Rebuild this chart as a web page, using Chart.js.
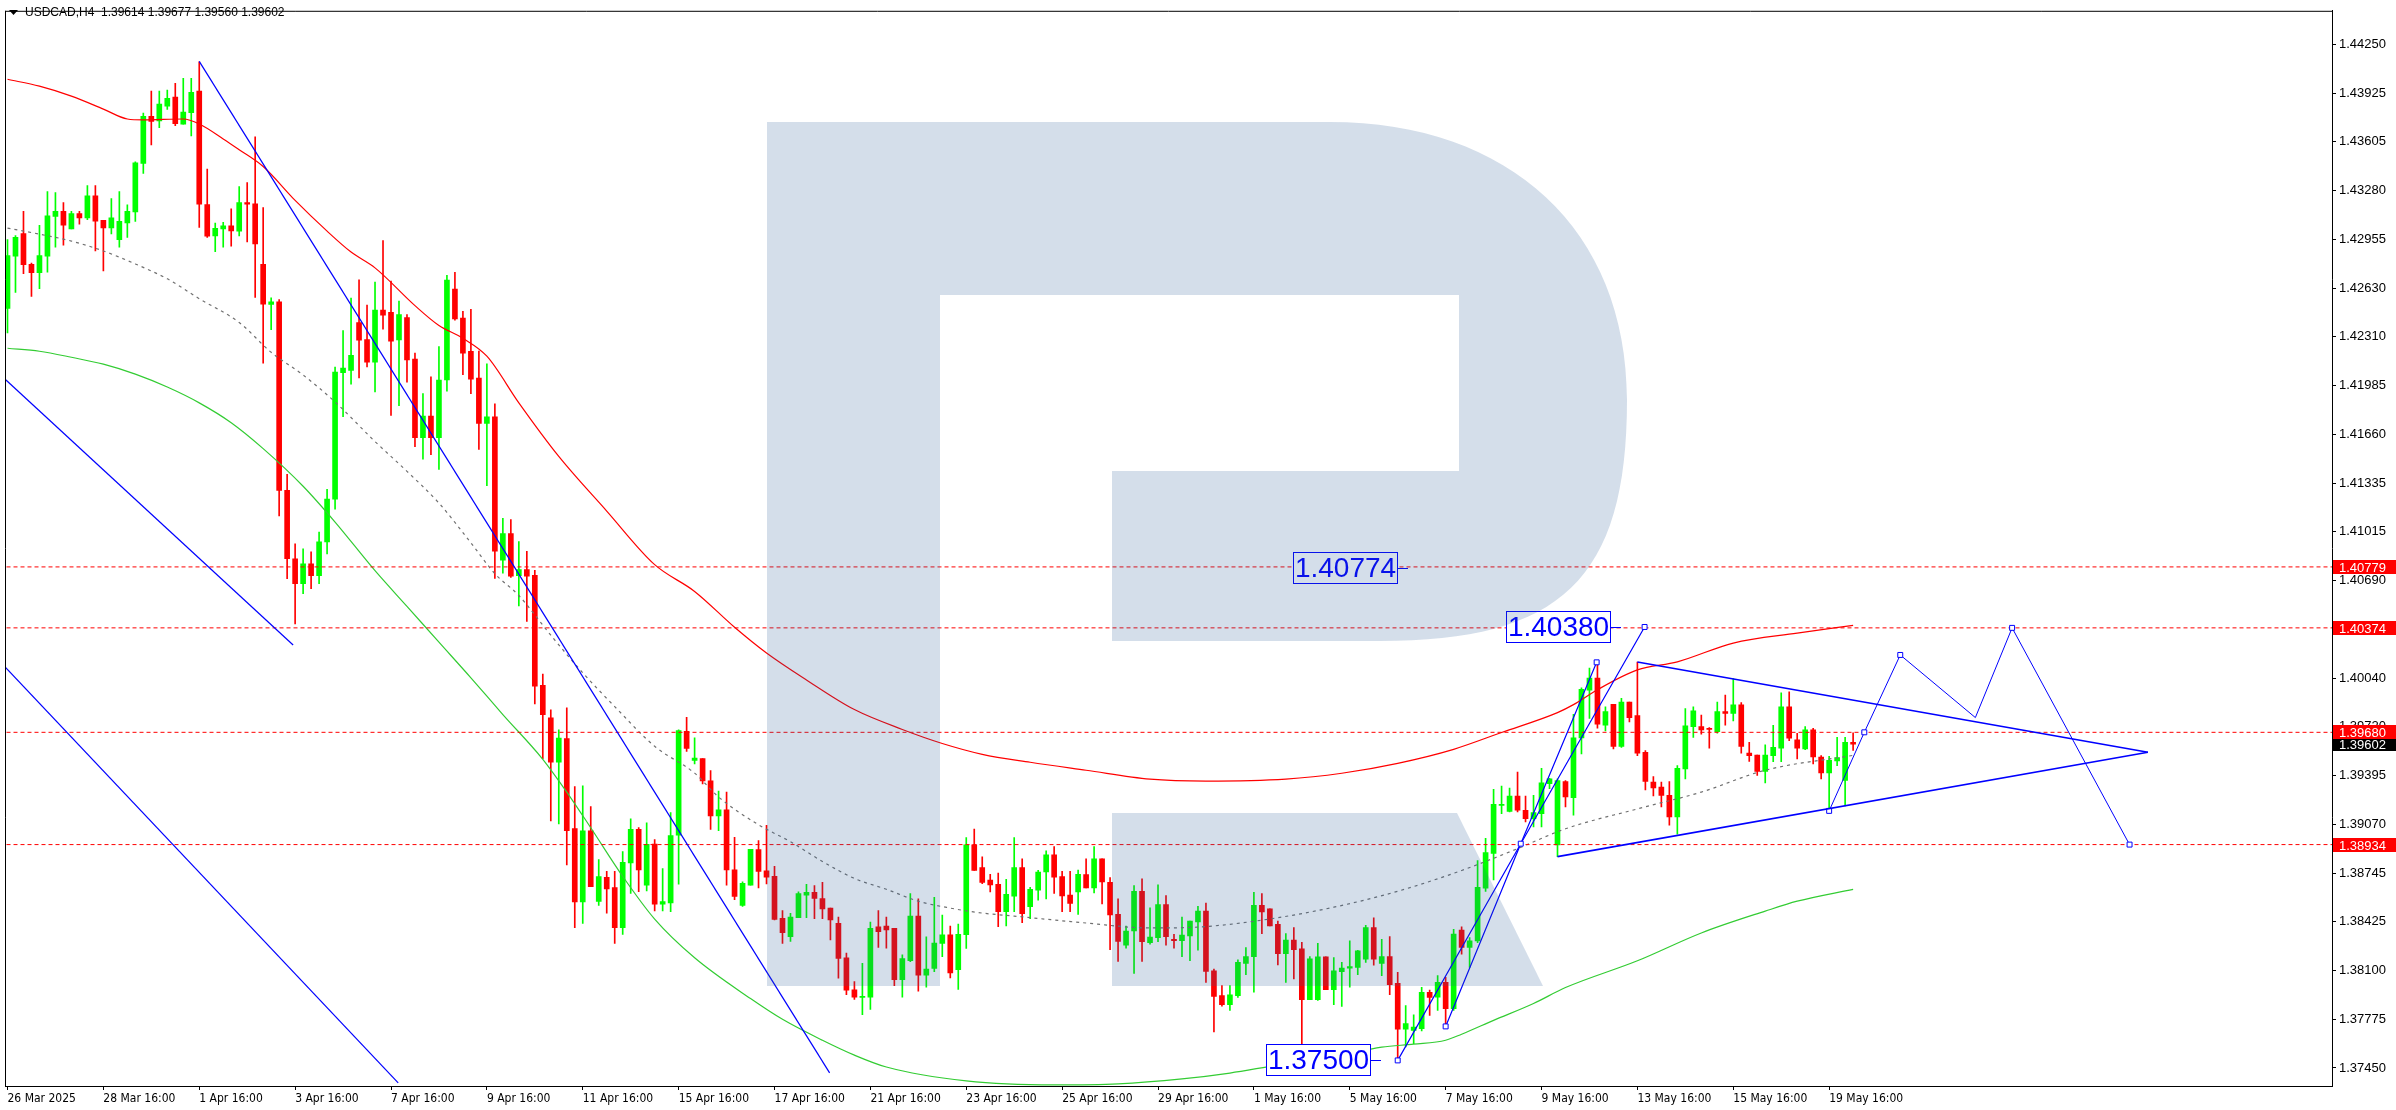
<!DOCTYPE html>
<html>
<head>
<meta charset="utf-8">
<title>USDCAD,H4</title>
<script src="https://cdn.jsdelivr.net/npm/chart.js@4.4.1/dist/chart.umd.min.js"></script>
<style>
  html, body { margin: 0; padding: 0; background: #ffffff; }
  #wrap { position: relative; width: 2396px; height: 1110px; }
</style>
</head>
<body>
<div id="wrap"><canvas id="usdcad"></canvas></div>
<script>
// H4 bars, bar 0 = 26 Mar 2025 16:00, last bar = 20 May 04:00
const barOpen = [
  1.42496,1.42844,1.42994,1.42789,1.42734,1.42844,1.43108,1.43141,1.43024,1.43126,
  1.43097,1.43244,1.43082,1.43031,1.42954,1.43064,1.43137,1.43460,1.43772,1.43742,
  1.43841,1.43900,1.43720,1.43797,1.43940,1.43187,1.42978,1.43024,1.43046,1.43009,
  1.43200,1.43192,1.42789,1.42523,1.42540,1.41288,1.40833,1.40668,1.40800,1.40721,
  1.40945,1.41229,1.42070,1.42085,1.42402,1.42290,1.42140,1.42485,1.42471,1.42287,
  1.42435,1.42160,1.41637,1.41782,1.41637,1.42021,1.42625,1.42432,1.42211,1.42033,
  1.41732,1.41776,1.40824,1.41001,1.40720,1.40762,1.40723,1.39993,1.39777,1.39482,
  1.39638,1.39041,1.38553,1.39026,1.38556,1.38716,1.38648,1.38382,1.38813,1.39035,
  1.38665,1.38938,1.38538,1.38547,1.38997,1.39686,1.39493,1.39505,1.39357,1.39124,
  1.39165,1.38766,1.38530,1.38665,1.38901,1.38760,1.38723,1.38444,1.38323,1.38448,
  1.38598,1.38617,1.38576,1.38512,1.38411,1.38182,1.37969,1.37918,1.37920,1.38387,
  1.38393,1.38378,1.38037,1.38162,1.38459,1.38066,1.38112,1.38277,1.38334,1.38103,
  1.38336,1.38932,1.38782,1.38699,1.38670,1.38488,1.38591,1.38782,1.38521,1.38631,
  1.38752,1.38866,1.38721,1.38598,1.38620,1.38734,1.38646,1.38839,1.38683,1.38470,
  1.38266,1.38360,1.38623,1.38283,1.38316,1.38535,1.38305,1.38296,1.38327,1.38421,
  1.38492,1.38096,1.37931,1.37871,1.37931,1.38144,1.38190,1.38531,1.38507,1.38404,
  1.38210,1.38299,1.38241,1.37904,1.37904,1.38188,1.37970,1.38089,1.38113,1.38118,
  1.38173,1.38382,1.38144,1.38190,1.38012,1.37707,1.37700,1.37711,1.37953,1.37920,
  1.38019,1.37843,1.38366,1.38250,1.38294,1.38645,1.38876,1.39195,1.39155,1.39257,
  1.39162,1.39107,1.39140,1.39338,1.38931,1.39353,1.39246,1.39643,1.39960,1.40041,
  1.39727,1.39866,1.39586,1.39881,1.39791,1.39547,1.39349,1.39316,1.39261,1.39118,
  1.39437,1.39718,1.39718,1.39707,1.39685,1.39817,1.39806,1.39863,1.39542,1.39529,
  1.39421,1.39525,1.39575,1.39850,1.39630,1.39569,1.39696,1.39516,1.39410,1.39490,
  1.39360,1.39614
];
const barHigh = [
  1.42954,1.42980,1.43141,1.42798,1.43049,1.43273,1.43266,1.43200,1.43141,1.43141,
  1.43313,1.43313,1.43082,1.43227,1.43273,1.43185,1.43471,1.43794,1.43940,1.43940,
  1.43948,1.43992,1.44025,1.44025,1.44135,1.43423,1.43064,1.43068,1.43159,1.43306,
  1.43332,1.43636,1.43167,1.42567,1.42555,1.41394,1.40932,1.40899,1.40879,1.41011,
  1.41295,1.42106,1.42349,1.42565,1.42686,1.42518,1.42672,1.42947,1.42678,1.42545,
  1.42456,1.42199,1.41930,1.42042,1.42243,1.42716,1.42737,1.42477,1.42491,1.42213,
  1.42128,1.41862,1.41102,1.41093,1.40948,1.40883,1.40756,1.40067,1.39830,1.39697,
  1.39842,1.39319,1.39325,1.39186,1.38834,1.38757,1.38757,1.38887,1.39106,1.39047,
  1.39079,1.38967,1.38775,1.39147,1.39697,1.39780,1.39644,1.39505,1.39425,1.39289,
  1.39283,1.38982,1.38686,1.38902,1.38960,1.39062,1.38789,1.38496,1.38477,1.38620,
  1.38670,1.38661,1.38683,1.38512,1.38452,1.38213,1.38024,1.38145,1.38419,1.38496,
  1.38452,1.38378,1.38202,1.38609,1.38573,1.38321,1.38584,1.38466,1.38393,1.38406,
  1.38980,1.39037,1.38853,1.38736,1.38745,1.38703,1.38980,1.38839,1.38650,1.38763,
  1.38892,1.38921,1.38756,1.38756,1.38765,1.38839,1.38921,1.38839,1.38714,1.38573,
  1.38393,1.38661,1.38707,1.38513,1.38667,1.38595,1.38338,1.38452,1.38426,1.38524,
  1.38546,1.38107,1.37997,1.37997,1.38168,1.38250,1.38617,1.38608,1.38507,1.38426,
  1.38342,1.38382,1.38285,1.38190,1.38278,1.38188,1.38184,1.38151,1.38294,1.38232,
  1.38397,1.38448,1.38305,1.38322,1.38085,1.37865,1.37803,1.37986,1.37968,1.38063,
  1.38052,1.38371,1.38388,1.38316,1.38828,1.38975,1.39301,1.39322,1.39309,1.39415,
  1.39257,1.39261,1.39441,1.39375,1.39371,1.39360,1.39800,1.39975,1.40107,1.40145,
  1.39850,1.39866,1.39905,1.39881,1.40147,1.39558,1.39386,1.39349,1.39353,1.39459,
  1.39837,1.39850,1.39795,1.39712,1.39881,1.39927,1.40037,1.39877,1.39613,1.39529,
  1.39597,1.39727,1.39943,1.39949,1.39674,1.39718,1.39707,1.39525,1.39520,1.39646,
  1.39646,1.39677
];
const barLow = [
  1.42334,1.42602,1.42727,1.42576,1.42628,1.42738,1.42903,1.42917,1.43024,1.43057,
  1.43086,1.42879,1.42745,1.42991,1.42903,1.42969,1.43075,1.43394,1.43583,1.43698,
  1.43819,1.43711,1.43720,1.43643,1.43035,1.42969,1.42873,1.42903,1.42910,1.42978,
  1.42939,1.42569,1.42133,1.42356,1.41117,1.40701,1.40400,1.40602,1.40635,1.40668,
  1.40866,1.41163,1.41777,1.41993,1.42034,1.42107,1.41942,1.42358,1.41785,1.41850,
  1.42007,1.41578,1.41495,1.41525,1.41427,1.41947,1.42418,1.42057,1.41930,1.41560,
  1.41318,1.40703,1.40738,1.40709,1.40519,1.40416,1.39869,1.39505,1.39091,1.39071,
  1.38799,1.38382,1.38411,1.38654,1.38530,1.38479,1.38278,1.38337,1.38609,1.38621,
  1.38627,1.38494,1.38494,1.38488,1.38671,1.39553,1.39470,1.39337,1.39035,1.39026,
  1.38665,1.38568,1.38524,1.38665,1.38646,1.38672,1.38433,1.38277,1.38290,1.38448,
  1.38448,1.38442,1.38442,1.38301,1.38046,1.37936,1.37905,1.37804,1.37839,1.38250,
  1.38246,1.37997,1.37920,1.38156,1.37960,1.37986,1.38090,1.38189,1.38048,1.37971,
  1.38244,1.38762,1.38675,1.38620,1.38389,1.38393,1.38488,1.38415,1.38442,1.38565,
  1.38573,1.38609,1.38488,1.38488,1.38470,1.38646,1.38613,1.38540,1.38235,1.38158,
  1.38246,1.38078,1.38157,1.38272,1.38289,1.38265,1.38245,1.38190,1.38162,1.38232,
  1.38019,1.37689,1.37860,1.37832,1.37918,1.38069,1.37953,1.38342,1.38393,1.38135,
  1.38019,1.38041,1.37590,1.37904,1.37898,1.37970,1.37871,1.37858,1.37986,1.38069,
  1.38151,1.38133,1.38063,1.37937,1.37500,1.37590,1.37612,1.37696,1.37799,1.37832,
  1.37726,1.37832,1.38206,1.38118,1.38283,1.38623,1.38700,1.39140,1.39151,1.39151,
  1.39085,1.39052,1.39052,1.39305,1.38854,1.39184,1.39129,1.39536,1.39773,1.39707,
  1.39690,1.39569,1.39580,1.39749,1.39525,1.39298,1.39257,1.39184,1.39063,1.39004,
  1.39371,1.39646,1.39668,1.39575,1.39674,1.39727,1.39756,1.39542,1.39487,1.39393,
  1.39344,1.39485,1.39485,1.39624,1.39503,1.39564,1.39470,1.39371,1.39158,1.39459,
  1.39191,1.39560
];
const barClose = [
  1.42848,1.42969,1.42787,1.42734,1.42848,1.43112,1.43141,1.43049,1.43126,1.43097,
  1.43244,1.43077,1.43031,1.43099,1.43075,1.43141,1.43464,1.43772,1.43739,1.43854,
  1.43893,1.43724,1.43801,1.43933,1.43189,1.42976,1.43029,1.43046,1.43011,1.43200,
  1.43189,1.42925,1.42525,1.42540,1.41288,1.40833,1.40668,1.40800,1.40721,1.40945,
  1.41229,1.42073,1.42100,1.42184,1.42285,1.42140,1.42485,1.42452,1.42279,1.42456,
  1.42154,1.41637,1.41782,1.41637,1.42021,1.42684,1.42426,1.42199,1.42027,1.41732,
  1.41776,1.40883,1.41001,1.40717,1.40762,1.40717,1.39987,1.39798,1.39482,1.39641,
  1.39026,1.38553,1.39026,1.38654,1.38722,1.38639,1.38382,1.38816,1.39035,1.38766,
  1.38935,1.38538,1.38556,1.38994,1.39691,1.39573,1.39508,1.39357,1.39124,1.39165,
  1.38766,1.38589,1.38677,1.38902,1.38756,1.38718,1.38437,1.38349,1.38452,1.38609,
  1.38617,1.38577,1.38507,1.38433,1.38178,1.37967,1.37920,1.37925,1.38378,1.38356,
  1.38367,1.38037,1.38176,1.38459,1.38066,1.38107,1.38279,1.38334,1.38081,1.38338,
  1.38932,1.38762,1.38683,1.38666,1.38488,1.38603,1.38782,1.38475,1.38637,1.38752,
  1.38866,1.38718,1.38593,1.38543,1.38736,1.38646,1.38839,1.38686,1.38466,1.38290,
  1.38360,1.38623,1.38289,1.38320,1.38535,1.38322,1.38296,1.38333,1.38426,1.38492,
  1.38091,1.37926,1.37871,1.37935,1.38151,1.38190,1.38531,1.38487,1.38393,1.38210,
  1.38299,1.38236,1.37904,1.38175,1.38188,1.37970,1.38096,1.38113,1.38124,1.38228,
  1.38382,1.38173,1.38190,1.38003,1.37707,1.37744,1.37722,1.37953,1.37918,1.38019,
  1.37843,1.38340,1.38250,1.38294,1.38650,1.38881,1.39202,1.39202,1.39257,1.39162,
  1.39107,1.39147,1.39344,1.39371,1.39360,1.39250,1.39643,1.39965,1.40041,1.39734,
  1.39817,1.39586,1.39881,1.39778,1.39542,1.39353,1.39311,1.39261,1.39118,1.39441,
  1.39723,1.39822,1.39696,1.39700,1.39817,1.39806,1.39863,1.39586,1.39525,1.39421,
  1.39529,1.39580,1.39850,1.39641,1.39575,1.39696,1.39516,1.39410,1.39494,1.39512,
  1.39613,1.39602
];

// moving averages, read at sample bars
const maRedBars = [0,4,8,12,15,17,22,24,27,29,32,36,40,43,46,51,54,57,60,64,69,75,81,86,91,95,100,106,112,117,122,128,135,143,150,160,167,174,181,187,194,196,199,204,209,216,224,231];
const maRedVals = [1.44019,1.43973,1.43907,1.43821,1.43755,1.43749,1.43755,1.43722,1.43623,1.43551,1.43439,1.43214,1.43010,1.42871,1.42766,1.42515,1.42383,1.42298,1.42179,1.41869,1.41513,1.41150,1.40794,1.40616,1.40378,1.40207,1.40028,1.39831,1.39699,1.39606,1.39534,1.39481,1.39428,1.39369,1.39356,1.39369,1.39408,1.39474,1.39567,1.39679,1.39811,1.39864,1.39963,1.40095,1.40148,1.40273,1.40339,1.40391];
const maGrayBars = [0,4,8,12,16,20,24,29,33,37,41,46,50,54,58,61,64,68,72,76,81,86,89,94,98,102,106,110,114,118,122,126,135,143,149,157,166,174,182,189,195,204,212,220,231];
const maGrayVals = [1.43030,1.42990,1.42944,1.42878,1.42792,1.42693,1.42561,1.42403,1.42205,1.42054,1.41875,1.41612,1.41414,1.41203,1.40939,1.40734,1.40589,1.40325,1.40075,1.39851,1.39587,1.39409,1.39250,1.39066,1.38953,1.38822,1.38709,1.38637,1.38558,1.38512,1.38479,1.38459,1.38413,1.38380,1.38386,1.38432,1.38518,1.38624,1.38762,1.38907,1.39039,1.39171,1.39283,1.39428,1.39527];
const maGreenBars = [0,4,8,12,16,20,24,28,32,37,41,46,50,54,58,62,67,70,73,77,81,86,93,97,102,106,110,120,131,139,147,153,159,166,172,176,180,182,186,191,195,204,212,220,224,231];
const maGreenVals = [1.42232,1.42212,1.42172,1.42126,1.42060,1.41974,1.41869,1.41737,1.41565,1.41315,1.41077,1.40754,1.40517,1.40279,1.40042,1.39798,1.39501,1.39283,1.39046,1.38723,1.38439,1.38182,1.37911,1.37773,1.37634,1.37535,1.37456,1.37364,1.37337,1.37344,1.37377,1.37416,1.37469,1.37522,1.37588,1.37608,1.37634,1.37674,1.37766,1.37878,1.37984,1.38162,1.38347,1.38492,1.38558,1.38637];

// horizontal levels
const levelPrices = [1.40779, 1.40374, 1.39680, 1.38934];

// drawn lines: [bar, price] pairs
const channelTop = [[24, 1.44138], [102.9, 1.37417]];
const channelMid = [[-1, 1.42060], [35.75, 1.40260]];
const channelLow = [[-1, 1.40153], [48.9, 1.37351]];
const impulseA = [[174, 1.37500], [189.4, 1.38940], [204.9, 1.40380]];
const impulseB = [[180, 1.37726], [189.4, 1.38940], [198.9, 1.40145]];
const triangleUpper = [[204, 1.40147], [267.9, 1.39547]];
const triangleLower = [[194, 1.38854], [267.9, 1.39547]];
const forecastPath = [[228, 1.39158], [232.4, 1.39680], [236.9, 1.40194], [246.3, 1.39778], [250.9, 1.40374], [265.6, 1.38934]];

const priceTags = [
  { text: '1.40774', bar: 175.25, price: 1.40774 },
  { text: '1.40380', bar: 201.9, price: 1.40380 },
  { text: '1.37500', bar: 171.9, price: 1.37500 }
];

const xTickBars = [0,12,24,36,48,60,72,84,96,108,120,132,144,156,168,180,192,204,216,228];
const xTickLabels = ['26 Mar 2025','28 Mar 16:00','1 Apr 16:00','3 Apr 16:00','7 Apr 16:00','9 Apr 16:00','11 Apr 16:00','15 Apr 16:00','17 Apr 16:00','21 Apr 16:00','23 Apr 16:00','25 Apr 16:00','29 Apr 16:00','1 May 16:00','5 May 16:00','7 May 16:00','9 May 16:00','13 May 16:00','15 May 16:00','19 May 16:00'];
const yTickValues = [1.44250,1.43925,1.43605,1.43280,1.42955,1.42630,1.42310,1.41985,1.41660,1.41335,1.41015,1.40690,1.40365,1.40040,1.39720,1.39395,1.39070,1.38745,1.38425,1.38100,1.37775,1.37450];

const symbolName = 'USDCAD,H4';

function toPoints(pairs) {
  return pairs.map(p => ({ x: p[0], y: p[1] }));
}

function maPoints(bars, vals) {
  return bars.map((b, i) => ({ x: b, y: vals[i] }));
}

function blueLine(pairs, width, radius) {
  return {
    type: 'line',
    data: toPoints(pairs),
    borderColor: '#0000FF',
    borderWidth: width,
    pointStyle: 'rect',
    pointRadius: radius,
    pointBorderColor: '#0000FF',
    pointBackgroundColor: '#FFFFFF',
    pointBorderWidth: 1,
    fill: false,
    order: 0
  };
}

// RoboForex style "R" watermark, laid over the plot
function drawLogo(ctx) {
  ctx.fillStyle = 'rgba(40,90,150,0.2)';
  ctx.beginPath();
  ctx.rect(767, 122, 173, 864);
  ctx.rect(940, 122, 390, 173);
  ctx.fill();
  ctx.beginPath();
  ctx.moveTo(1330, 122);
  ctx.bezierCurveTo(1510, 122, 1627, 230, 1627, 400);
  ctx.bezierCurveTo(1627, 580, 1560, 641, 1380, 641);
  ctx.lineTo(1112, 641);
  ctx.lineTo(1112, 471);
  ctx.lineTo(1459, 471);
  ctx.lineTo(1459, 295);
  ctx.lineTo(1330, 295);
  ctx.closePath();
  ctx.fill();
  ctx.beginPath();
  ctx.moveTo(1112, 813);
  ctx.lineTo(1457, 813);
  ctx.lineTo(1543, 986);
  ctx.lineTo(1112, 986);
  ctx.closePath();
  ctx.fill();
}

const overlay = {
  id: 'overlay',
  afterDatasetsDraw(chart) {
    const { ctx, chartArea: a } = chart;
    const xs = chart.scales.x, ys = chart.scales.y;
    ctx.save();
    ctx.beginPath();
    ctx.rect(a.left, a.top, a.right - a.left, a.bottom - a.top);
    ctx.clip();

    ctx.font = '28px "Liberation Sans"';
    ctx.textAlign = 'center';
    ctx.textBaseline = 'middle';
    for (const t of priceTags) {
      const px = Math.round(xs.getPixelForValue(t.bar));
      const py = Math.round(ys.getPixelForValue(t.price)) + 0.5;
      const w = Math.round(ctx.measureText(t.text).width) + 4;
      const bx = px - 10 - w;
      ctx.strokeStyle = '#0000FF';
      ctx.lineWidth = 1;
      ctx.beginPath();
      ctx.moveTo(px - 10, py);
      ctx.lineTo(px, py);
      ctx.stroke();
      ctx.fillStyle = '#FFFFFF';
      ctx.fillRect(bx, py - 16.5, w, 32);
      ctx.strokeRect(bx + 0.5, py - 16, w - 1, 31);
      ctx.fillStyle = '#0000FF';
      ctx.fillText(t.text, bx + w / 2, py + 1);
    }

    drawLogo(ctx);
    ctx.restore();
  },
  afterDraw(chart) {
    const { ctx, chartArea: a } = chart;
    const ys = chart.scales.y;
    const W = chart.width;
    ctx.save();

    // frame (top and left; right/bottom come from the axes)
    ctx.strokeStyle = '#000000';
    ctx.lineWidth = 1;
    ctx.beginPath();
    ctx.moveTo(a.left, a.top + 0.5);
    ctx.lineTo(a.right, a.top + 0.5);
    ctx.moveTo(a.left + 0.5, a.top);
    ctx.lineTo(a.left + 0.5, a.bottom);
    ctx.stroke();

    // price boxes on the right axis
    ctx.font = '13px "Liberation Sans"';
    ctx.textAlign = 'left';
    ctx.textBaseline = 'middle';
    const last = barClose.length - 1;
    const cy = Math.round(ys.getPixelForValue(barClose[last]));
    ctx.fillStyle = '#000000';
    ctx.fillRect(a.right + 1, cy - 6, W - a.right - 1, 13);
    ctx.fillStyle = '#FFFFFF';
    ctx.fillText(barClose[last].toFixed(5), a.right + 7, cy + 1);
    for (const p of levelPrices) {
      const py = Math.round(ys.getPixelForValue(p));
      ctx.fillStyle = '#FF0000';
      ctx.fillRect(a.right + 1, py - 7, W - a.right - 1, 14);
      ctx.fillStyle = '#FFFFFF';
      ctx.fillText(p.toFixed(5), a.right + 7, py + 1);
    }

    // header
    ctx.fillStyle = '#000000';
    ctx.beginPath();
    ctx.moveTo(a.left + 4, 10);
    ctx.lineTo(a.left + 13, 10);
    ctx.lineTo(a.left + 8.5, 15);
    ctx.closePath();
    ctx.fill();
    ctx.font = '12px "Liberation Sans"';
    const ohlc = [barOpen[last], barHigh[last], barLow[last], barClose[last]].map(v => v.toFixed(5)).join(' ');
    ctx.fillText(symbolName + '  ' + ohlc, a.left + 20, 13);
    ctx.restore();
  }
};

const candleColor = barOpen.map((o, i) => (barClose[i] >= o ? '#00FF00' : '#FF0000'));
const wickData = barOpen.map((o, i) => ({ x: i, y: [barLow[i], barHigh[i]] }));
const bodyData = barOpen.map((o, i) => ({ x: i, y: [o, barClose[i]] }));

const datasets = [
  blueLine(channelTop, 1.2, 0),
  blueLine(channelMid, 1.2, 0),
  blueLine(channelLow, 1.2, 0),
  blueLine(impulseA, 1.2, [3.5, 3.5, 3.5]),
  blueLine(impulseB, 1.2, [3.5, 0, 3.5]),
  blueLine(triangleUpper, 1.6, 0),
  blueLine(triangleLower, 1.6, 0),
  blueLine(forecastPath, 1, [3.5, 3.5, 3.5, 0, 3.5, 3.5])
];
for (const p of levelPrices) {
  datasets.push({
    type: 'line',
    data: [{ x: -1, y: p }, { x: 300, y: p }],
    borderColor: '#FF0000',
    borderWidth: 1,
    borderDash: [4, 3],
    pointRadius: 0,
    order: 1
  });
}
datasets.push(
  { type: 'line', data: maPoints(maRedBars, maRedVals), borderColor: '#FF0000', borderWidth: 1.2, pointRadius: 0, cubicInterpolationMode: 'monotone', order: 2 },
  { type: 'line', data: maPoints(maGrayBars, maGrayVals), borderColor: '#707070', borderWidth: 1.2, borderDash: [3, 4], pointRadius: 0, cubicInterpolationMode: 'monotone', order: 2 },
  { type: 'line', data: maPoints(maGreenBars, maGreenVals), borderColor: '#33CC33', borderWidth: 1.2, pointRadius: 0, cubicInterpolationMode: 'monotone', order: 2 },
  { type: 'bar', data: bodyData, backgroundColor: candleColor, borderWidth: 0, barThickness: 5, minBarLength: 1, grouped: false, order: 3 },
  { type: 'bar', data: wickData, backgroundColor: candleColor, borderWidth: 0, barThickness: 1, grouped: false, order: 4 }
);

const ctx = document.getElementById('usdcad').getContext('2d');
const chart = new Chart(ctx, {
  type: 'bar',
  data: { datasets: datasets },
  options: {
    responsive: true,
    maintainAspectRatio: false,
    animation: false,
    devicePixelRatio: 1,
    layout: { padding: { top: 3, left: 2, right: 0, bottom: 0 } },
    plugins: { legend: { display: false }, tooltip: { enabled: false } },
    scales: {
      x: {
        type: 'linear',
        min: -0.3125,
        max: 290.9375,
        offset: false,
        grid: { display: true, drawOnChartArea: false, drawTicks: true, tickLength: 4, color: '#000000', offset: false },
        border: { display: true, color: '#000000', width: 1 },
        afterBuildTicks: function (scale) {
          scale.ticks = xTickBars.map(v => ({ value: v }));
        },
        afterFit: function (scale) { scale.height = 24; },
        ticks: {
          autoSkip: false,
          maxRotation: 0,
          minRotation: 0,
          align: 'start',
          padding: 2,
          color: '#000000',
          font: { family: 'DejaVu Sans Condensed', size: 12 },
          callback: function (value) {
            const i = xTickBars.indexOf(value);
            return i >= 0 ? xTickLabels[i] : '';
          }
        }
      },
      y: {
        type: 'linear',
        position: 'right',
        min: 1.37330,
        max: 1.44474,
        grid: { display: true, drawOnChartArea: false, drawTicks: true, tickLength: 4, color: '#000000' },
        border: { display: true, color: '#000000', width: 1 },
        afterBuildTicks: function (scale) {
          scale.ticks = yTickValues.map(v => ({ value: v }));
        },
        afterFit: function (scale) { scale.width = 64; },
        ticks: {
          padding: 3,
          color: '#000000',
          font: { family: 'Liberation Sans', size: 13 },
          callback: function (value) { return value.toFixed(5); }
        }
      }
    }
  },
  plugins: [overlay]
});
</script>
</body>
</html>
